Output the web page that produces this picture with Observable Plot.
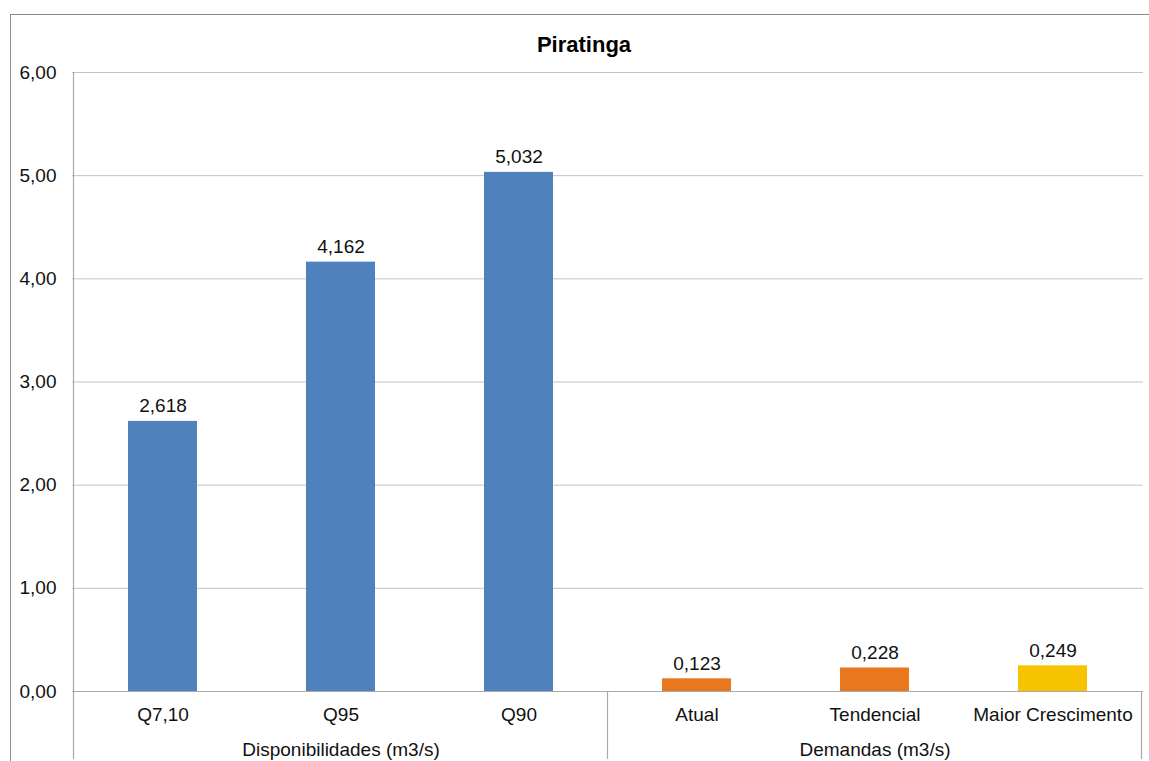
<!DOCTYPE html>
<html>
<head>
<meta charset="utf-8">
<script src="https://cdn.jsdelivr.net/npm/d3@7"></script>
<script src="https://cdn.jsdelivr.net/npm/@observablehq/plot@0.6"></script>
<style>
  body { margin: 0; background: #fff; font-family: "Liberation Sans", Arial, sans-serif; }
  #wrap { position: relative; width: 1149px; height: 761px; overflow: hidden; }
  #frame { position: absolute; left: 10px; top: 14px; right: -2px; bottom: -2px;
           border-left: 1px solid #8c8c8c; border-top: 1px solid #8c8c8c; }
  #wrap svg { position: absolute; left: 0; top: 0; }
</style>
</head>
<body>
<div id="wrap"><div id="frame"></div></div>
<script>
// Chart content
const title = "Piratinga";
const categories = ["Q7,10", "Q95", "Q90", "Atual", "Tendencial", "Maior Crescimento"];
const values = [2.618, 4.162, 5.032, 0.123, 0.228, 0.249];
const groupOf = ["Disponibilidades (m3/s)", "Disponibilidades (m3/s)", "Disponibilidades (m3/s)",
                 "Demandas (m3/s)", "Demandas (m3/s)", "Demandas (m3/s)"];
const yTicks = [0, 1, 2, 3, 4, 5, 6];

// Bar fills, one per category
const barColors = ["#4f81bd", "#4f81bd", "#4f81bd", "#e8771e", "#e8771e", "#f7c200"];

const comma = (v, n) => v.toFixed(n).replace(".", ",");

const rows = categories.map((c, i) => ({category: c, value: values[i], group: groupOf[i]}));

// One label per group, centred under the middle category of the group
const groupNames = Array.from(new Set(groupOf));
const groupLabels = groupNames.map(name => {
  const members = categories.filter((c, i) => groupOf[i] === name);
  return {name, anchor: members[Math.floor(members.length / 2)]};
});

const font = '"Liberation Sans", Arial, sans-serif';
const W = 1149, H = 761;
const FS = 19;

const chart = Plot.plot({
  width: W,
  height: H,
  marginLeft: 72,
  marginRight: 6,
  marginTop: 72,
  marginBottom: 70,
  style: {fontFamily: font, fontSize: FS + "px", color: "#111", background: "transparent", overflow: "visible"},
  x: {domain: categories, paddingInner: 0.61, paddingOuter: 0.305, axis: null},
  y: {domain: [0, 6], axis: null},
  color: {domain: categories, range: barColors},
  marks: [
    Plot.ruleY(yTicks.filter(d => d > 0), {y: d => d, stroke: "#c3c3c3", strokeWidth: 1}),
    Plot.axisY(yTicks, {tickSize: 0, tickPadding: 16, tickFormat: d => comma(d, 2), label: null, fontSize: FS, fill: "#111"}),
    Plot.barY(rows, {x: "category", y: "value", fill: "category"}),
    Plot.ruleY([0], {stroke: "#a9a9a9", strokeWidth: 1.2}),
    Plot.text(rows, {x: "category", y: "value", text: d => comma(d.value, 3),
                     lineAnchor: "bottom", dy: -9, fontSize: FS, fill: "#111"}),
    Plot.axisX({tickSize: 0, tickPadding: 16, label: null, fontSize: FS, fill: "#111"}),
    Plot.text(groupLabels, {x: "anchor", text: "name", frameAnchor: "bottom",
                            lineAnchor: "middle", dy: 58, fontSize: FS, fill: "#111"}),
    Plot.text([title], {frameAnchor: "top", lineAnchor: "middle", dy: -28, dx: -24,
                        fontWeight: "bold", fontSize: 22, fill: "#000"})
  ]
});

document.getElementById("wrap").appendChild(chart);

// Value axis line and the category-group dividers below the baseline
const xs = chart.scale("x");
const ys = chart.scale("y");
const step = xs.step, bw = xs.bandwidth;
const leftEdge = c => xs.apply(c) - (step - bw) / 2;
const svg = d3.select(chart);
const y0 = ys.apply(0), yTop = ys.apply(6), yEnd = H - 2;

svg.append("line")
  .attr("x1", leftEdge(categories[0])).attr("x2", leftEdge(categories[0]))
  .attr("y1", yTop).attr("y2", yEnd)
  .attr("stroke", "#a9a9a9").attr("stroke-width", 1.2);

const dividers = [];
groupNames.forEach((name, gi) => {
  if (gi > 0) dividers.push(leftEdge(categories[groupOf.indexOf(name)]));
});
dividers.push(leftEdge(categories[categories.length - 1]) + step);
dividers.forEach(x => {
  svg.append("line")
    .attr("x1", x).attr("x2", x).attr("y1", y0).attr("y2", yEnd)
    .attr("stroke", "#a9a9a9").attr("stroke-width", 1.2);
});
</script>
</body>
</html>
